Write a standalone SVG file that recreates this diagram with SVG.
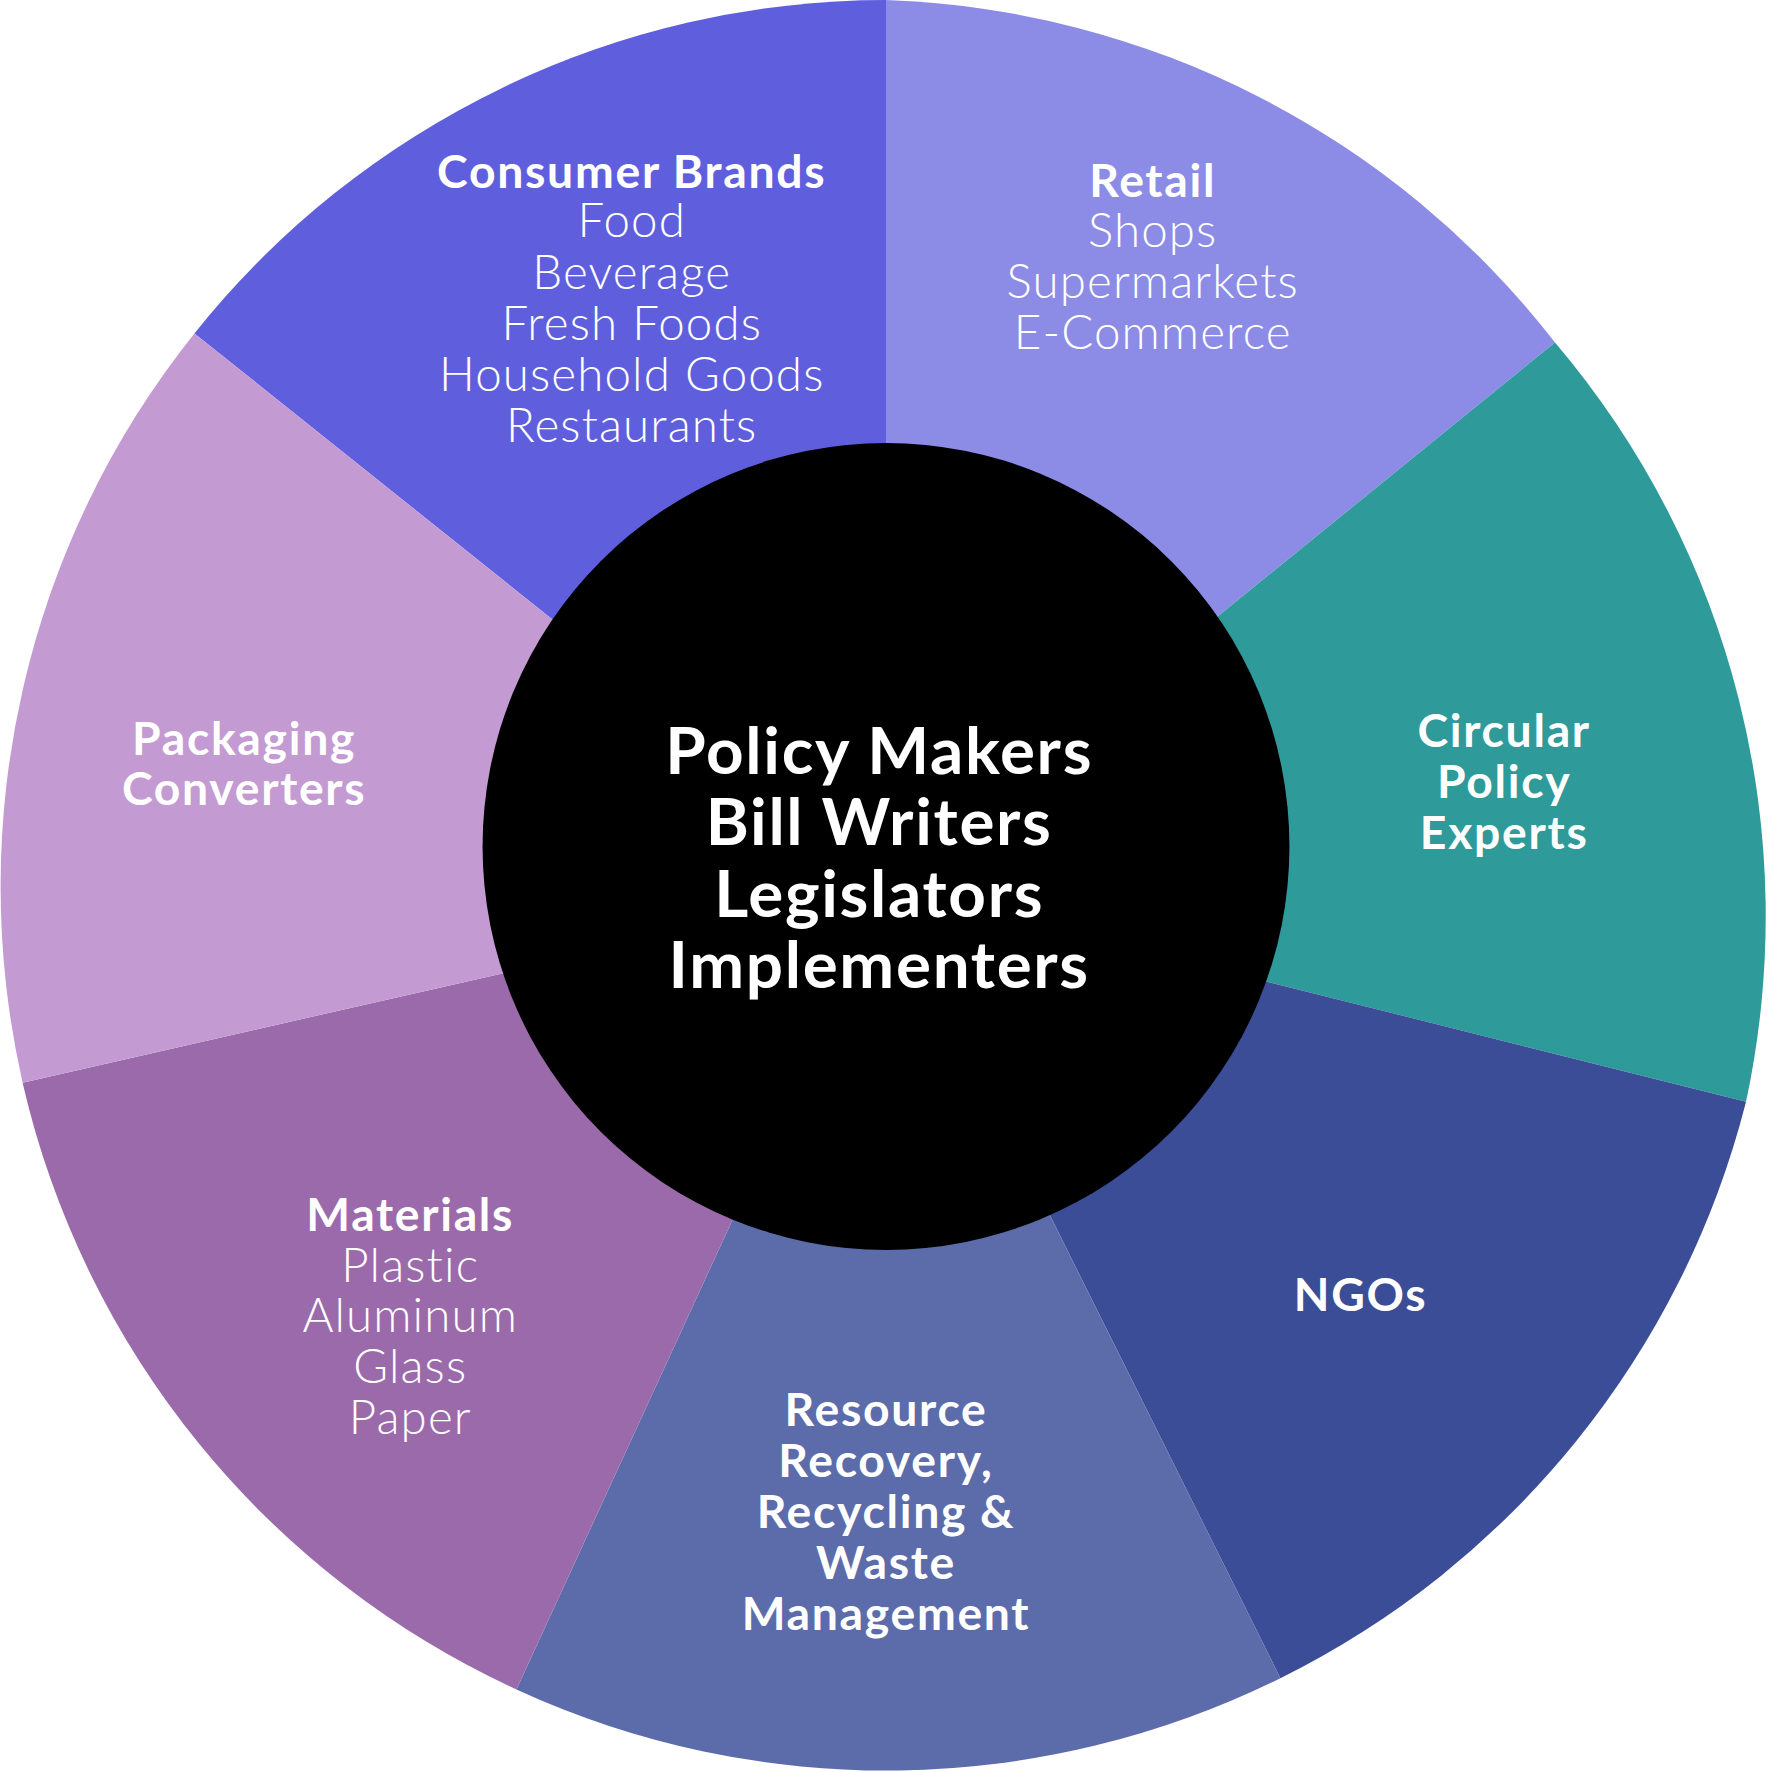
<svg xmlns="http://www.w3.org/2000/svg" width="1772" height="1772" viewBox="0 0 1772 1772">
<style>
.b{font-family:Lato,"Liberation Sans",sans-serif;font-weight:700;font-size:41px;letter-spacing:1.5px;fill:#fff;text-anchor:middle}
.l{font-family:Lato,"Liberation Sans",sans-serif;font-weight:300;font-size:42px;letter-spacing:1px;fill:#fff;text-anchor:middle}
.c{font-family:Lato,"Liberation Sans",sans-serif;font-weight:700;font-size:58px;letter-spacing:1.5px;fill:#fff;text-anchor:middle}
</style>
<rect width="1772" height="1772" fill="#fff"/>
<g transform="scale(1.13010)">
<g id="consumer"><path d="M784 784 L172 295 A784 784 0 0 1 784 0 Z" fill="#5F5FDE"/>
<text class="b" x="559" y="166">Consumer Brands</text>
<text class="l" x="559" y="210">Food</text><text class="l" x="559" y="256">Beverage</text><text class="l" x="559" y="301">Fresh Foods</text><text class="l" x="559" y="346">Household Goods</text><text class="l" x="559" y="391">Restaurants</text></g>
<g id="retail"><path d="M784 784 L784 0 A784 784 0 0 1 1376 303 Z" fill="#8C8CE6"/>
<text class="b" x="1020" y="174">Retail</text><text class="l" x="1020" y="219">Shops</text><text class="l" x="1020" y="264">Supermarkets</text><text class="l" x="1020" y="309">E-Commerce</text></g>
<g id="circular"><path d="M784 784 L1376 303 A784 784 0 0 1 1545 975 Z" fill="#2E9A9A"/>
<text class="b" x="1331" y="661">Circular</text><text class="b" x="1331" y="706">Policy</text><text class="b" x="1331" y="751">Experts</text></g>
<g id="ngos"><path d="M784 784 L1545 975 A784 784 0 0 1 1133 1485 Z" fill="#3B4D96"/>
<text class="b" x="1204" y="1160">NGOs</text></g>
<g id="resource"><path d="M784 784 L1133 1485 A784 784 0 0 1 457 1495 Z" fill="#5C6CAA"/>
<text class="b" x="784" y="1262">Resource</text><text class="b" x="784" y="1307">Recovery,</text><text class="b" x="784" y="1352">Recycling &amp;</text><text class="b" x="784" y="1397">Waste</text><text class="b" x="784" y="1442">Management</text></g>
<g id="materials"><path d="M784 784 L457 1495 A784 784 0 0 1 20 958 Z" fill="#9B6AAA"/>
<text class="b" x="363" y="1089">Materials</text><text class="l" x="363" y="1134">Plastic</text><text class="l" x="363" y="1179">Aluminum</text><text class="l" x="363" y="1224">Glass</text><text class="l" x="363" y="1269">Paper</text></g>
<g id="packaging"><path d="M784 784 L20 958 A784 784 0 0 1 172 295 Z" fill="#C49AD2"/>
<text class="b" x="216" y="668">Packaging</text><text class="b" x="216" y="712">Converters</text></g>
<g id="center"><circle cx="784" cy="749" r="357" fill="#000"/>
<text class="c" x="778" y="685">Policy Makers</text><text class="c" x="778" y="748">Bill Writers</text><text class="c" x="778" y="811">Legislators</text><text class="c" x="778" y="874">Implementers</text></g>
<g id="connectors"/>
</g>
</svg>
